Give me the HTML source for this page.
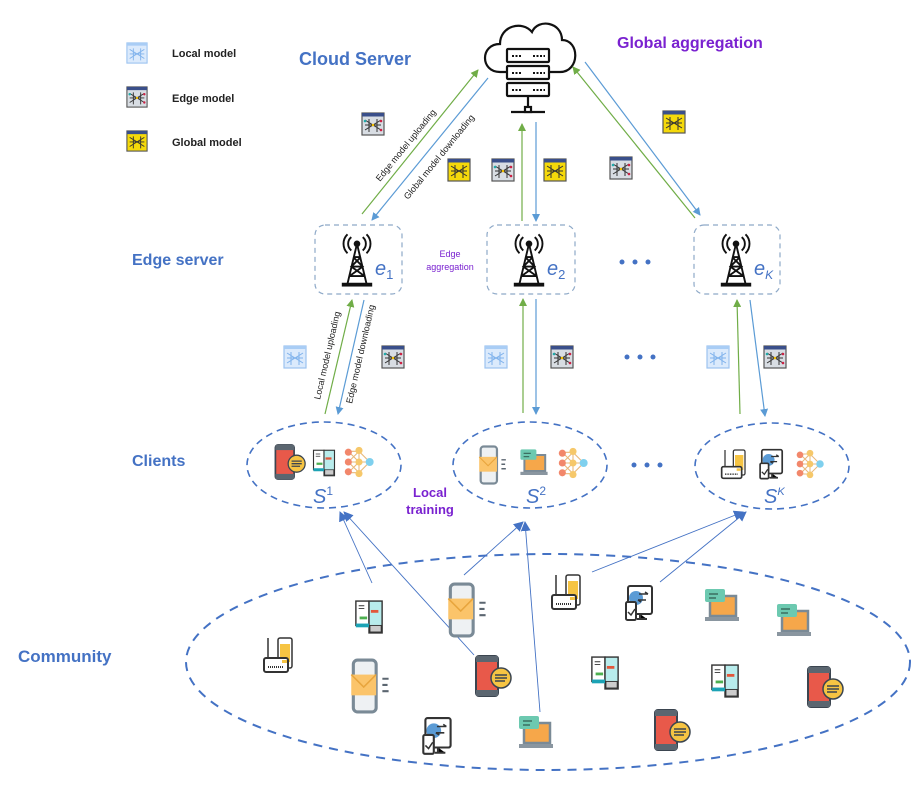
<!DOCTYPE html>
<html><head><meta charset="utf-8"><style>
html,body{margin:0;padding:0;background:#fff;}
svg{display:block;}
text{font-family:"Liberation Sans",sans-serif;}
</style></head><body>
<svg width="915" height="785" viewBox="0 0 915 785" xmlns="http://www.w3.org/2000/svg">
<defs>
<marker id="ag" markerWidth="8" markerHeight="8" refX="7" refY="4" orient="auto" markerUnits="userSpaceOnUse"><path d="M0,0 L8,4 L0,8 z" fill="#70ad47"/></marker>
<marker id="ab" markerWidth="8" markerHeight="8" refX="7" refY="4" orient="auto" markerUnits="userSpaceOnUse"><path d="M0,0 L8,4 L0,8 z" fill="#5b9bd5"/></marker>
<marker id="ad" markerWidth="10" markerHeight="10" refX="9" refY="5" orient="auto" markerUnits="userSpaceOnUse"><path d="M0,0 L10,5 L0,10 z" fill="#4472c4"/></marker>
<symbol id="mLocal" viewBox="0 0 24 24"><rect x="1" y="1" width="22" height="22" fill="#dbeafc" stroke="#9cc3f0" stroke-width="1.2"/><rect x="1" y="1" width="22" height="3" fill="#a9cdf5"/><path d="M4,8 L12,13 L20,8 M4,13 L20,13 M4,18 L12,13 L20,18 M8,7 L8,20 M16,7 L16,20" stroke="#7fb2ec" stroke-width="1" fill="none"/></symbol>
<symbol id="mEdge" viewBox="0 0 24 24"><rect x="1" y="1" width="22" height="22" fill="#d8dde3" stroke="#555" stroke-width="1.2"/><rect x="1" y="1" width="22" height="3.5" fill="#3a4f8a"/><path d="M4,8 L12,13 L20,8 M4,13 L20,13 M4,18 L12,13 L20,18 M8,7 L8,20 M16,7 L16,20" stroke="#333" stroke-width="1" fill="none"/><circle cx="4" cy="9" r="1.3" fill="#2aa"/><circle cx="20" cy="9" r="1.3" fill="#c24"/><circle cx="12" cy="13" r="1.3" fill="#eb0"/><circle cx="20" cy="18" r="1.3" fill="#c24"/></symbol>
<symbol id="mGlobal" viewBox="0 0 24 24"><rect x="1" y="1" width="22" height="22" fill="#f5d90a" stroke="#555" stroke-width="1.2"/><rect x="1" y="1" width="22" height="3.5" fill="#3a4f8a"/><path d="M4,8 L12,13 L20,8 M4,13 L20,13 M4,18 L12,13 L20,18 M8,7 L8,20 M16,7 L16,20" stroke="#333" stroke-width="1" fill="none"/></symbol>
<symbol id="phoneRed" viewBox="0 0 40 44"><rect x="4" y="2" width="22" height="40" rx="3" fill="#e8594a" stroke="#3b4550" stroke-width="2"/><rect x="4" y="2" width="22" height="6" fill="#5b6670"/><rect x="4" y="36" width="22" height="6" fill="#5b6670"/><circle cx="29" cy="24" r="10" fill="#f6c443" stroke="#3b4550" stroke-width="1.5"/><path d="M23,21h12M23,24h12M23,27h10" stroke="#3b4550" stroke-width="1.5"/></symbol>
<symbol id="phoneMail" viewBox="0 0 44 54"><rect x="4" y="2" width="22" height="50" rx="4" fill="#eef1f3" stroke="#7a8a96" stroke-width="3"/><rect x="2" y="16" width="24" height="20" fill="#fbc46a"/><path d="M2,16 L14,28 L26,16" stroke="#e8a53d" stroke-width="1.5" fill="none"/><path d="M32,20h6M32,26h5M32,32h6" stroke="#5b6670" stroke-width="2"/></symbol>
<symbol id="laptop" viewBox="0 0 40 40"><rect x="8" y="10" width="26" height="20" fill="#f6a74a" stroke="#7a8a96" stroke-width="2.5"/><rect x="3" y="31" width="34" height="4" fill="#8a96a0"/><rect x="3" y="3" width="20" height="13" rx="2" fill="#6cc9b0"/><path d="M7,8h9M7,12h7" stroke="#3b6f60" stroke-width="1.5"/></symbol>
<symbol id="router" viewBox="0 0 36 40"><rect x="16" y="2" width="14" height="30" rx="2" fill="#fff" stroke="#333" stroke-width="1.5"/><rect x="18" y="8" width="10" height="18" fill="#f6c443"/><line x1="6" y1="2" x2="6" y2="22" stroke="#333" stroke-width="1.5"/><rect x="2" y="22" width="24" height="14" rx="2" fill="#fff" stroke="#333" stroke-width="2"/><path d="M6,31h16" stroke="#333" stroke-width="2" stroke-dasharray="1,1"/><rect x="20" y="24" width="5" height="3" fill="#f6c443"/></symbol>
<symbol id="pc" viewBox="0 0 32 38"><rect x="2" y="2" width="14" height="26" fill="#fff" stroke="#333" stroke-width="1.5"/><rect x="16" y="2" width="14" height="34" fill="#b8ecec" stroke="#333" stroke-width="1.5"/><rect x="2" y="26" width="14" height="4" fill="#1ca3b5"/><path d="M18,13h8" stroke="#e2563a" stroke-width="3"/><path d="M6,20h8" stroke="#4db050" stroke-width="3"/><rect x="17" y="28" width="12" height="7" fill="#ccc" stroke="#333"/><path d="M5,7h6M5,10h6" stroke="#333"/></symbol>
<symbol id="monCheck" viewBox="0 0 32 40"><rect x="4" y="2" width="24" height="28" rx="2" fill="#fff" stroke="#333" stroke-width="2"/><circle cx="12" cy="14" r="7" fill="#5b9bd5"/><path d="M15,10h9M24,10l-3,-2M22,16h-8M14,16l3,2" stroke="#333" stroke-width="1.5" fill="none"/><rect x="2" y="18" width="10" height="18" rx="1.5" fill="#fff" stroke="#333" stroke-width="2"/><path d="M4,28l3,3l4,-6" stroke="#333" stroke-width="1.5" fill="none"/><path d="M16,30v5h-3h10" stroke="#333" stroke-width="2"/></symbol>
<symbol id="nn" viewBox="0 0 36 36"><path d="M6,6L18,6L30,18L18,30L6,30M6,18L18,18L30,18M6,6L18,18L6,30M6,18L18,6M6,18L18,30M18,6L18,30" stroke="#e9b87a" stroke-width="1.2" fill="none"/><circle cx="6" cy="7" r="4" fill="#f2876b"/><circle cx="6" cy="18" r="4" fill="#f2876b"/><circle cx="6" cy="29" r="4" fill="#f2876b"/><circle cx="18" cy="5" r="4" fill="#f6c86a"/><circle cx="18" cy="18" r="4" fill="#f6c86a"/><circle cx="18" cy="31" r="4" fill="#f6c86a"/><circle cx="30" cy="18" r="4.5" fill="#7fd0ee"/></symbol>
<symbol id="tower" viewBox="0 0 40 64"><path d="M10,6a14,14 0 0 0 0,20M14,9a9,9 0 0 0 0,14M30,6a14,14 0 0 1 0,20M26,9a9,9 0 0 1 0,14" stroke="#111" stroke-width="2" fill="none"/><circle cx="20" cy="16" r="3.5" fill="#111"/><path d="M20,16L10,58M20,16L30,58M16,30h8M14,40h12M12,50h16M16,30L26,40L12,50M24,30L14,40L28,50" stroke="#111" stroke-width="2" fill="none"/><rect x="4" y="57" width="32" height="4" fill="#111"/></symbol>
</defs>

<use href="#mLocal" x="126" y="42" width="22" height="22"/>
<use href="#mEdge" x="126" y="86" width="22" height="22"/>
<use href="#mGlobal" x="126" y="130" width="22" height="22"/>
<text x="172" y="57" font-size="11" font-weight="bold" fill="#222">Local model</text>
<text x="172" y="102" font-size="11" font-weight="bold" fill="#222">Edge model</text>
<text x="172" y="146" font-size="11" font-weight="bold" fill="#222">Global model</text>

<text x="299" y="65" font-size="18" font-weight="bold" fill="#4472c4">Cloud Server</text>
<text x="617" y="48" font-size="16" font-weight="bold" fill="#7a22d0">Global aggregation</text>
<text x="132" y="265" font-size="16" font-weight="bold" fill="#4472c4">Edge server</text>
<text x="132" y="466" font-size="16" font-weight="bold" fill="#4472c4">Clients</text>
<text x="18" y="662" font-size="17" font-weight="bold" fill="#4472c4">Community</text>

<g stroke="#111" stroke-width="2.2" fill="#fff">
<path d="M500,72 C480,72 480,44 500,44 C500,26 522,20 532,32 C538,18 562,22 562,40 C580,40 580,72 560,72 Z"/>
<rect x="507" y="49" width="42" height="13" rx="1"/>
<rect x="507" y="66" width="42" height="13" rx="1"/>
<rect x="507" y="83" width="42" height="13" rx="1"/>
<path d="M528,96v11M511,112h34" fill="none"/>
<rect x="525" y="107" width="6" height="5"/>
</g>
<g stroke="#111" stroke-width="2"><path d="M512,56h9M533,56h12M512,73h9M533,73h12M512,90h9M533,90h12" stroke-dasharray="2,1.5"/></g>

<g fill="none" stroke="#8ea9c8" stroke-width="1.2" stroke-dasharray="5,4">
<rect x="315" y="225" width="87" height="69" rx="10"/>
<rect x="487" y="225" width="88" height="69" rx="10"/>
<rect x="694" y="225" width="86" height="69" rx="10"/>
</g>
<use href="#tower" x="338" y="228" width="38" height="62"/>
<use href="#tower" x="510" y="228" width="38" height="62"/>
<use href="#tower" x="717" y="228" width="38" height="62"/>
<g font-family="Liberation Serif,serif" font-style="italic" fill="#4472c4" font-size="20">
<text x="375" y="275">e<tspan font-size="13" font-style="normal" dy="4">1</tspan></text>
<text x="547" y="275">e<tspan font-size="13" font-style="normal" dy="4">2</tspan></text>
<text x="754" y="275">e<tspan font-size="12" dy="4">K</tspan></text>
</g>
<text x="450" y="257" font-size="9" fill="#7a22d0" text-anchor="middle">Edge</text>
<text x="450" y="270" font-size="9" fill="#7a22d0" text-anchor="middle">aggregation</text>
<g fill="#4472c4"><circle cx="622" cy="262" r="2.5"/><circle cx="635" cy="262" r="2.5"/><circle cx="648" cy="262" r="2.5"/>
<circle cx="627" cy="357" r="2.5"/><circle cx="640" cy="357" r="2.5"/><circle cx="653" cy="357" r="2.5"/>
<circle cx="634" cy="465" r="2.5"/><circle cx="647" cy="465" r="2.5"/><circle cx="660" cy="465" r="2.5"/></g>

<g stroke-width="1.2" fill="none">
<line x1="362" y1="214" x2="478" y2="70" stroke="#70ad47" marker-end="url(#ag)"/>
<line x1="488" y1="78" x2="372" y2="220" stroke="#5b9bd5" marker-end="url(#ab)"/>
<line x1="522" y1="221" x2="522" y2="124" stroke="#70ad47" marker-end="url(#ag)"/>
<line x1="536" y1="122" x2="536" y2="221" stroke="#5b9bd5" marker-end="url(#ab)"/>
<line x1="695" y1="218" x2="573" y2="67" stroke="#70ad47" marker-end="url(#ag)"/>
<line x1="585" y1="62" x2="700" y2="215" stroke="#5b9bd5" marker-end="url(#ab)"/>
</g>
<text transform="translate(380,182) rotate(-51)" font-size="9" fill="#222">Edge model uploading</text>
<text transform="translate(408,200) rotate(-51)" font-size="9" fill="#222">Global model downloading</text>
<use href="#mEdge" x="361" y="112" width="24" height="24"/>
<use href="#mGlobal" x="447" y="158" width="24" height="24"/>
<use href="#mEdge" x="491" y="158" width="24" height="24"/>
<use href="#mGlobal" x="543" y="158" width="24" height="24"/>
<use href="#mEdge" x="609" y="156" width="24" height="24"/>
<use href="#mGlobal" x="662" y="110" width="24" height="24"/>

<g stroke-width="1.2" fill="none">
<line x1="325" y1="414" x2="352" y2="300" stroke="#70ad47" marker-end="url(#ag)"/>
<line x1="364" y1="300" x2="338" y2="414" stroke="#5b9bd5" marker-end="url(#ab)"/>
<line x1="523" y1="413" x2="523" y2="299" stroke="#70ad47" marker-end="url(#ag)"/>
<line x1="536" y1="299" x2="536" y2="414" stroke="#5b9bd5" marker-end="url(#ab)"/>
<line x1="740" y1="414" x2="737" y2="300" stroke="#70ad47" marker-end="url(#ag)"/>
<line x1="750" y1="300" x2="765" y2="416" stroke="#5b9bd5" marker-end="url(#ab)"/>
</g>
<text transform="translate(320,400) rotate(-77)" font-size="9" fill="#222">Local model uploading</text>
<text transform="translate(352,404) rotate(-77)" font-size="9" fill="#222">Edge model downloading</text>
<use href="#mLocal" x="283" y="345" width="24" height="24"/>
<use href="#mEdge" x="381" y="345" width="24" height="24"/>
<use href="#mLocal" x="484" y="345" width="24" height="24"/>
<use href="#mEdge" x="550" y="345" width="24" height="24"/>
<use href="#mLocal" x="706" y="345" width="24" height="24"/>
<use href="#mEdge" x="763" y="345" width="24" height="24"/>

<g fill="none" stroke="#4472c4" stroke-width="1.6" stroke-dasharray="7,5">
<ellipse cx="324" cy="465" rx="77" ry="43"/>
<ellipse cx="530" cy="465" rx="77" ry="43"/>
<ellipse cx="772" cy="466" rx="77" ry="43"/>
</g>
<use href="#phoneRed" x="272" y="443" width="34" height="38"/>
<use href="#pc" x="312" y="446" width="24" height="34"/>
<use href="#nn" x="343" y="446" width="32" height="32"/>
<use href="#phoneMail" x="476" y="445" width="36" height="40"/>
<use href="#laptop" x="518" y="446" width="32" height="34"/>
<use href="#nn" x="557" y="446" width="32" height="34"/>
<use href="#router" x="720" y="448" width="30" height="34"/>
<use href="#monCheck" x="758" y="448" width="28" height="34"/>
<use href="#nn" x="795" y="448" width="30" height="32"/>
<g font-family="Liberation Serif,serif" font-style="italic" fill="#4472c4" font-size="20">
<text x="313" y="503">S<tspan font-size="12" font-style="normal" dy="-8">1</tspan></text>
<text x="526" y="503">S<tspan font-size="12" font-style="normal" dy="-8">2</tspan></text>
<text x="764" y="503">S<tspan font-size="11" dy="-8">K</tspan></text>
</g>
<text x="430" y="497" font-size="13" font-weight="bold" fill="#7a22d0" text-anchor="middle">Local</text>
<text x="430" y="514" font-size="13" font-weight="bold" fill="#7a22d0" text-anchor="middle">training</text>

<ellipse cx="548" cy="662" rx="362" ry="108" fill="none" stroke="#4472c4" stroke-width="2" stroke-dasharray="9,7"/>
<g stroke="#4472c4" stroke-width="0.9" fill="none">
<line x1="372" y1="583" x2="340" y2="512" marker-end="url(#ad)"/>
<line x1="474" y1="655" x2="344" y2="512" marker-end="url(#ad)"/>
<line x1="464" y1="575" x2="523" y2="522" marker-end="url(#ad)"/>
<line x1="540" y1="712" x2="525" y2="522" marker-end="url(#ad)"/>
<line x1="592" y1="572" x2="743" y2="512" marker-end="url(#ad)"/>
<line x1="660" y1="582" x2="746" y2="512" marker-end="url(#ad)"/>
</g>
<use href="#pc" x="354" y="598" width="30" height="38"/>
<use href="#router" x="262" y="635" width="36" height="42"/>
<use href="#phoneMail" x="446" y="582" width="46" height="56"/>
<use href="#phoneMail" x="347" y="658" width="50" height="56"/>
<use href="#phoneRed" x="472" y="653" width="40" height="46"/>
<use href="#monCheck" x="421" y="716" width="34" height="42"/>
<use href="#laptop" x="516" y="712" width="40" height="42"/>
<use href="#router" x="550" y="573" width="36" height="40"/>
<use href="#monCheck" x="624" y="584" width="32" height="40"/>
<use href="#laptop" x="702" y="586" width="40" height="40"/>
<use href="#laptop" x="774" y="601" width="40" height="40"/>
<use href="#pc" x="590" y="654" width="30" height="38"/>
<use href="#pc" x="710" y="661" width="30" height="40"/>
<use href="#phoneRed" x="651" y="706" width="40" height="48"/>
<use href="#phoneRed" x="804" y="664" width="40" height="46"/>
</svg>
</body></html>
